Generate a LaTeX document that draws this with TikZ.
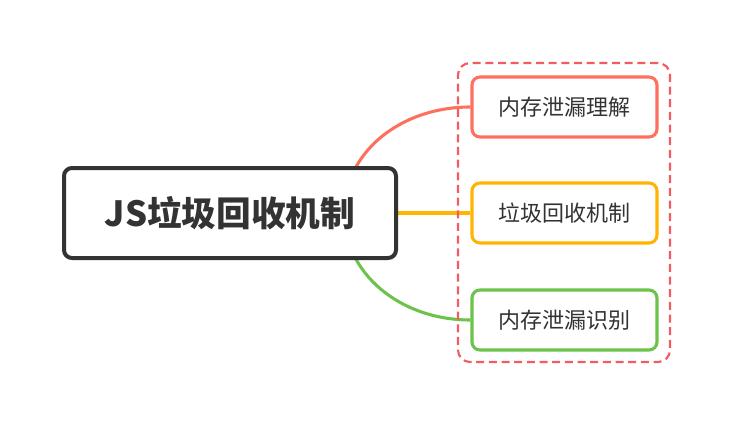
\documentclass[tikz,border=0pt]{standalone}
\usepackage{fontspec}
\newfontfamily\cjk{Noto Sans CJK SC}
\usetikzlibrary{backgrounds,calc}
\definecolor{txt}{HTML}{333333}
\definecolor{redc}{HTML}{FF6F5E}
\definecolor{yelc}{HTML}{FFB400}
\definecolor{grnc}{HTML}{6CC24A}
\definecolor{dashc}{HTML}{F25B62}
\tikzset{
  rootbox/.style={draw=txt, line width=3pt, rounded corners=6pt, fill=white,
    minimum width=332*0.75pt, minimum height=90*0.75pt, inner sep=0pt,
    text=txt, font=\cjk\bfseries\fontsize{26}{30}\selectfont},
  kidbox/.style={line width=2.3pt, rounded corners=6pt, fill=white,
    minimum width=185*0.75pt, minimum height=60*0.75pt, inner sep=0pt,
    text=txt, font=\cjk\fontsize{16.5}{20}\selectfont},
  groupbox/.style={draw=dashc, line width=1.6pt, dash pattern=on 6pt off 3.5pt,
    rounded corners=9pt, minimum width=212*0.75pt, minimum height=299*0.75pt, inner sep=0pt},
  link/.style={line width=2.3pt}
}
\begin{document}
\begin{tikzpicture}[x=0.75pt,y=-0.75pt]
\useasboundingbox (0,0) rectangle (732,425);
\node[rootbox] (root) at (230,213) {JS垃圾回收机制};
\node[groupbox] (grp) at (564,212.5) {};
\node[kidbox, draw=redc] (k1) at (564.5,107) {内存泄漏理解};
\node[kidbox, draw=yelc] (k2) at (564.5,213) {垃圾回收机制};
\node[kidbox, draw=grnc] (k3) at (564.5,320) {内存泄漏识别};
\coordinate (s) at ($(root.east)+(-54,0)$);
\begin{scope}[on background layer]
\draw[link, redc] (s) .. controls ($(s)+(0,-60)$) and ($(k1.west)+(-71,0)$) .. (k1.west);
\draw[link, grnc] (s) .. controls ($(s)+(0,60)$) and ($(k3.west)+(-71,0)$) .. (k3.west);
\draw[link, yelc] (root.east) -- (k2.west);
\end{scope}
\end{tikzpicture}
\end{document}
